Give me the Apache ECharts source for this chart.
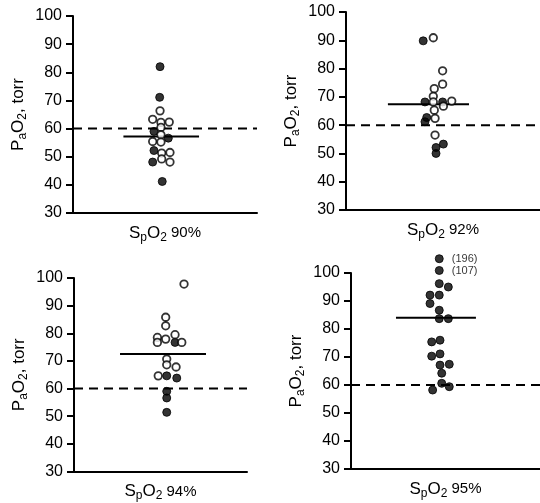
<!DOCTYPE html>
<html>
<head>
<meta charset="utf-8">
<script src="https://cdn.jsdelivr.net/npm/echarts@6/dist/echarts.min.js"></script>
<style>
html,body{margin:0;padding:0;background:#fff;}
#c{width:540px;height:503px;}
</style>
</head>
<body>
<div id="c"></div>
<script>
// ---- data (x = horizontal jitter position 0-100 within panel, y = PaO2 torr) ----
var panelLabels = ['90%', '92%', '94%', '95%'];
var yTicks = [30, 40, 50, 60, 70, 80, 90, 100];
var threshold = 60;
var meanValues = [57.2, 67.4, 72.5, 84.0];
var meanExtents = [[27.4, 68.5], [21.6, 63.4], [26.6, 76.3], [23.8, 66.1]];

var filled90 = [[47.3,82.0],[47.1,71.1],[44.0,59.0],[51.8,56.6],[44.0,52.2],[43.3,48.1],[48.5,41.2]];
var open90 = [[47.3,66.3],[43.3,63.3],[47.8,62.2],[52.3,62.3],[47.8,60.4],[47.8,57.8],[43.3,55.4],[47.8,55.2],[48.2,51.3],[52.7,51.5],[48.2,49.2],[52.7,48.1]];

var filled92 = [[39.8,89.8],[40.7,68.2],[49.8,68.2],[41.6,62.7],[40.7,61.2],[50.2,53.3],[46.4,52.1],[46.4,50.0]];
var open92 = [[45.0,90.9],[49.8,79.2],[49.8,74.5],[45.5,72.9],[45.0,70.2],[45.0,68.2],[54.5,68.5],[50.2,66.7],[45.5,65.3],[45.9,62.4],[45.9,56.5]];

var filled94 = [[58.4,76.7],[53.6,64.6],[59.4,63.8],[53.6,59.0],[53.6,56.6],[53.6,51.4]];
var open94 = [[63.6,97.8],[53.0,85.8],[53.0,82.7],[48.2,78.5],[53.0,77.9],[58.4,79.5],[48.2,76.7],[62.3,76.7],[53.6,70.7],[53.6,68.6],[59.0,67.8],[48.7,64.6]];

// two off-scale points drawn above 100 with their true values as labels
var filled95 = [[46.7,105.1],[46.7,100.9],[46.7,96.2],[51.5,95.0],[41.8,92.1],[46.7,92.1],[41.8,89.1],[46.7,86.7],[46.7,83.7],[51.5,83.7],[42.7,75.4],[47.1,76.0],[42.7,70.3],[47.1,71.1],[47.1,67.1],[52.0,67.4],[48.0,64.2],[48.0,60.6],[43.2,58.2],[52.0,59.4]];
var offScaleLabels = ['(196)', '(107)'];
var open95 = [];

var filledSets = [filled90, filled92, filled94, filled95];
var openSets = [open90, open92, open94, open95];

// ---- layout ----
var grids = [
  {left: 73, top: 16, width: 184, height: 197},
  {left: 346, top: 12, width: 194, height: 198},
  {left: 74, top: 278, width: 173, height: 194},
  {left: 351, top: 273, width: 189, height: 196}
];

var FONT = 'Liberation Sans, Arial, sans-serif';
var rich = {
  m: {fontSize: 17, fontFamily: FONT, color: '#000', lineHeight: 20},
  s: {fontSize: 12, fontFamily: FONT, color: '#000', lineHeight: 20, padding: [9, 0, 0, 0]},
  n: {fontSize: 15, fontFamily: FONT, color: '#000', lineHeight: 20}
};

var xAxes = [], yAxes = [], series = [];
grids.forEach(function (g, i) {
  xAxes.push({
    gridIndex: i, type: 'value', min: 0, max: 100,
    axisLine: {show: true, lineStyle: {color: '#000', width: 2}},
    axisTick: {show: false}, axisLabel: {show: false}, splitLine: {show: false},
    name: '{m|S}{s|p}{m|O}{s|2}{n| ' + panelLabels[i] + '}',
    nameLocation: 'middle', nameGap: 10,
    nameTextStyle: {rich: rich}
  });
  yAxes.push({
    gridIndex: i, type: 'value', min: 30, max: 100, interval: 10,
    axisLine: {show: true, lineStyle: {color: '#000', width: 2}},
    axisTick: {show: true, length: 7, lineStyle: {color: '#000', width: 2}},
    axisLabel: {color: '#000', fontSize: 16, fontFamily: FONT, margin: 11,
      formatter: function (v) { return yTicks.indexOf(v) >= 0 ? String(v) : ''; }},
    splitLine: {show: false},
    name: '{m|P}{s|a}{m|O}{s|2}{m|, torr}',
    nameLocation: 'middle', nameGap: 45,
    nameTextStyle: {rich: rich}
  });
  // threshold dashed line
  series.push({
    type: 'line', xAxisIndex: i, yAxisIndex: i, symbol: 'none', silent: true,
    data: [[0, threshold], [100, threshold]],
    lineStyle: {color: '#000', width: 2, type: [9, 6]}, z: 2
  });
  // mean line
  series.push({
    type: 'line', xAxisIndex: i, yAxisIndex: i, symbol: 'none', silent: true,
    data: [[meanExtents[i][0], meanValues[i]], [meanExtents[i][1], meanValues[i]]],
    lineStyle: {color: '#000', width: 2}, z: 2
  });
  // filled points
  var fdata = filledSets[i].map(function (p, k) {
    var d = {value: p};
    if (i === 3 && k < offScaleLabels.length) {
      d.label = {show: true, position: 'right', distance: 8, formatter: offScaleLabels[k],
        color: '#000', fontSize: 11, fontFamily: FONT};
    }
    return d;
  });
  series.push({
    type: 'scatter', xAxisIndex: i, yAxisIndex: i, clip: false,
    symbol: 'circle', symbolSize: 8, data: fdata,
    itemStyle: {color: '#000', borderColor: '#000', borderWidth: 1}, z: 3
  });
  // open points
  series.push({
    type: 'scatter', xAxisIndex: i, yAxisIndex: i, clip: false,
    symbol: 'circle', symbolSize: 7.5, data: openSets[i],
    itemStyle: {color: '#fff', borderColor: '#000', borderWidth: 1.8}, z: 4
  });
});

var chart = echarts.init(document.getElementById('c'), null, {renderer: 'canvas'});
chart.setOption({
  backgroundColor: '#fff',
  animation: false,
  grid: grids,
  xAxis: xAxes,
  yAxis: yAxes,
  series: series
});
</script>
</body>
</html>
